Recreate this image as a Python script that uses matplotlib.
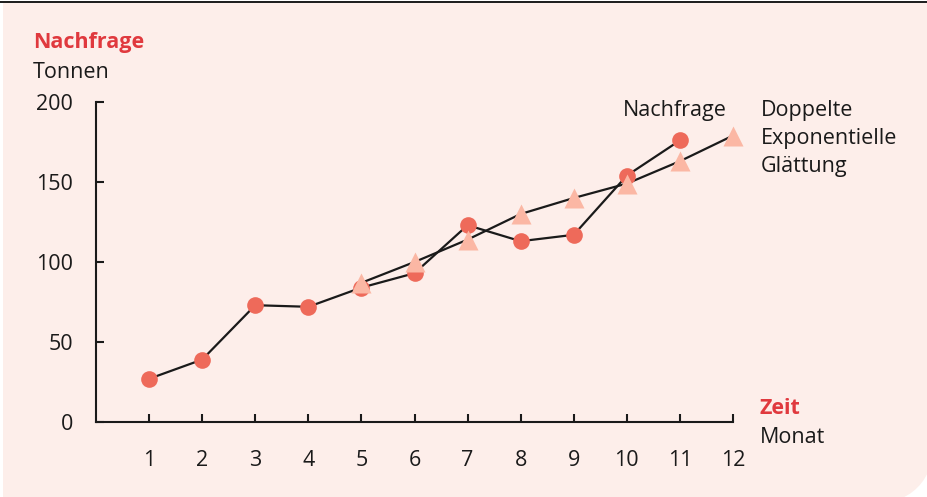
import matplotlib
import matplotlib.pyplot as plt
from matplotlib.path import Path
from matplotlib.patches import PathPatch
matplotlib.use('agg')

W, H = 927, 497

months = list(range(1, 13))
demand_months = months[:11]
demand = [27, 39, 73, 72, 84, 93, 123, 113, 117, 154, 176]
des_months = months[4:]
des = [87, 100, 114, 130, 140, 149, 163, 179]
y_ticks = [0, 50, 100, 150, 200]

plt.rcParams['font.family'] = ['Open Sans', 'DejaVu Sans']

RED = '#e0393e'
DOT = '#ee6a5a'
TRI = '#fbb7a4'
BG = '#fdeeea'
INK = '#1a1a1a'


def px(x, y):
    return x / W, 1 - y / H


fig = plt.figure(figsize=(W / 100, H / 100), dpi=100)
fig.patch.set_facecolor('white')

# pink panel with one rounded corner (bottom right)
r = 70
x0, y0, x1, y1 = 3, 3, 935, 505
verts = [(x0, y0), (x1, y0), (x1, y1 - r), (x1, y1), (x1 - r, y1), (x0, y1), (x0, y0)]
codes = [Path.MOVETO, Path.LINETO, Path.LINETO, Path.CURVE3, Path.CURVE3, Path.LINETO, Path.CLOSEPOLY]
panel = Path([px(*v) for v in verts], codes)
fig.patches.append(PathPatch(panel, transform=fig.transFigure, facecolor=BG, edgecolor='none', zorder=-5))
fig.add_artist(plt.Line2D([0, 1], [1 - 1.8 / H] * 2, transform=fig.transFigure, color=INK, lw=1.4))

ax = fig.add_axes([96 / W, 1 - 422 / H, (733 - 96) / W, (422 - 102) / H])
ax.set_zorder(2)
ax.set_facecolor('none')
ax.set_xlim(0, 12)
ax.set_ylim(0, 200)
for s in ['top', 'right']:
    ax.spines[s].set_visible(False)
for s in ['left', 'bottom']:
    ax.spines[s].set_linewidth(1.5)
    ax.spines[s].set_color(INK)
ax.set_xticks(months)
ax.set_yticks(y_ticks)
ax.tick_params(direction='in', length=5.5, width=1.5, color=INK, labelsize=15.5, labelcolor=INK)
ax.tick_params(axis='x', pad=20)
ax.tick_params(axis='y', pad=16.5)

ax.plot(des_months, des, color=INK, lw=1.6, zorder=2)
ax.plot(demand_months, demand, color=INK, lw=1.6, zorder=2)
ax.plot(demand_months, demand, 'o', color=DOT, ms=12, mec='none', zorder=3)
ax.plot(des_months, des, '^', color=TRI, ms=14.5, mec='none', zorder=4, clip_on=False)

fs = 15.5
fig.text(*px(33, 48), 'Nachfrage', color=RED, fontsize=fs, fontweight='bold', va='baseline')
fig.text(*px(33, 78), 'Tonnen', color=INK, fontsize=fs, va='baseline')
fig.text(*px(760, 414), 'Zeit', color=RED, fontsize=fs, fontweight='bold', va='baseline')
fig.text(*px(760, 443), 'Monat', color=INK, fontsize=fs, va='baseline')
fig.text(*px(727, 116), 'Nachfrage', color=INK, fontsize=fs, va='baseline', ha='right')
fig.text(*px(761, 116), 'Doppelte', color=INK, fontsize=fs, va='baseline')
fig.text(*px(761, 144), 'Exponentielle', color=INK, fontsize=fs, va='baseline')
fig.text(*px(761, 172), 'Glättung', color=INK, fontsize=fs, va='baseline')

fig.savefig('out.png', dpi=100)
